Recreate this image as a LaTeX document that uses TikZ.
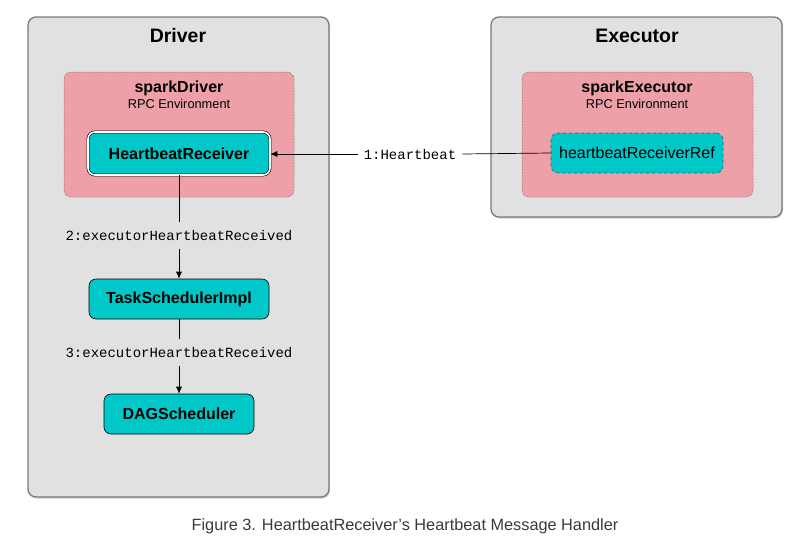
\documentclass[tikz,border=0pt]{standalone}
\usepackage{fontspec}
\setmainfont{Liberation Sans}
\setmonofont{Liberation Mono}
\usetikzlibrary{shadows,arrows.meta}
\definecolor{boxgray}{HTML}{E1E1E1}
\definecolor{boxedge}{HTML}{7A7A7A}
\definecolor{pinkenv}{HTML}{EDA0A8}
\definecolor{tealnode}{HTML}{00C8C8}
\definecolor{tealedge}{HTML}{1A6E6E}
\definecolor{captiongray}{HTML}{3A3A3A}
\tikzset{
  outerbox/.style={draw=boxedge, line width=1.3pt, fill=boxgray, rounded corners=8pt,
    drop shadow={shadow xshift=1pt, shadow yshift=-1.5pt, opacity=0.4}},
  envbox/.style={draw=black!70, densely dotted, line width=0.5pt, fill=pinkenv, rounded corners=7pt},
  comp/.style={draw=black, line width=0.6pt, fill=tealnode, rounded corners=7pt,
    font=\fontsize{16}{18}\selectfont\bfseries, inner sep=0pt},
  title/.style={font=\fontsize{19.5}{22}\selectfont\bfseries},
  envtitle/.style={font=\fontsize{16}{18}\selectfont\bfseries},
  envsub/.style={font=\fontsize{12.8}{14}\selectfont},
  msg/.style={font=\fontsize{14}{16}\selectfont\ttfamily, fill=white, inner xsep=6pt, inner ysep=2pt},
  msggray/.style={font=\fontsize{14}{16}\selectfont\ttfamily, fill=boxgray, inner sep=2pt},
  conn/.style={draw=black, line width=0.7pt},
  arr/.style={conn, -{Latex[length=7pt,width=6pt]}}
}
\begin{document}
\begin{tikzpicture}[x=1pt,y=-1pt]
\useasboundingbox (0,0) rectangle (809,541);
% outer boxes
\path[outerbox] (28,17) rectangle (329,497);
\path[outerbox] (491,17) rectangle (782,217);
\node[title] (driver) at (178,36) {Driver};
\node[title] (executor) at (637,36) {Executor};
% env boxes
\path[envbox] (64,72) rectangle (294,197);
\path[envbox] (522,72) rectangle (753,197);
\node[envtitle] (sd) at (179,88) {sparkDriver};
\node[envsub] (sdrpc) at (179,103.5) {RPC Environment};
\node[envtitle] (se) at (637,88) {sparkExecutor};
\node[envsub] (serpc) at (637,103.5) {RPC Environment};
% components
\node[comp, minimum width=182pt, minimum height=43pt, double=white, double distance=1.6pt] (hr) at (179,153.5) {HeartbeatReceiver};
\node[comp, draw=tealedge, dashed, font=\fontsize{16}{18}\selectfont, minimum width=172pt, minimum height=40pt] (hrr) at (637,153) {heartbeatReceiverRef};
\node[comp, minimum width=180pt, minimum height=40pt] (tsi) at (179,299) {TaskSchedulerImpl};
\node[comp, minimum width=150pt, minimum height=40pt] (dag) at (179,414) {DAGScheduler};
% connectors
\node[msg] (m1) at (410,154) {1:Heartbeat};
\draw[conn] (hrr.west) -- (m1.east);
\draw[arr] (m1.west) -- (hr.east |- m1.west);
\node[msggray] (m2) at (179,236) {2:executorHeartbeatReceived};
\draw[conn] (hr.south) -- (179,222);
\draw[arr] (179,249) -- (tsi.north);
\node[msggray] (m3) at (179,353) {3:executorHeartbeatReceived};
\draw[conn] (tsi.south) -- (179,339);
\draw[arr] (179,366) -- (dag.north);
% caption
\node[font=\fontsize{16.3}{18}\selectfont, text=captiongray] (cap) at (405,526) {Figure 3. HeartbeatReceiver’s Heartbeat Message Handler};
\end{tikzpicture}
\end{document}
